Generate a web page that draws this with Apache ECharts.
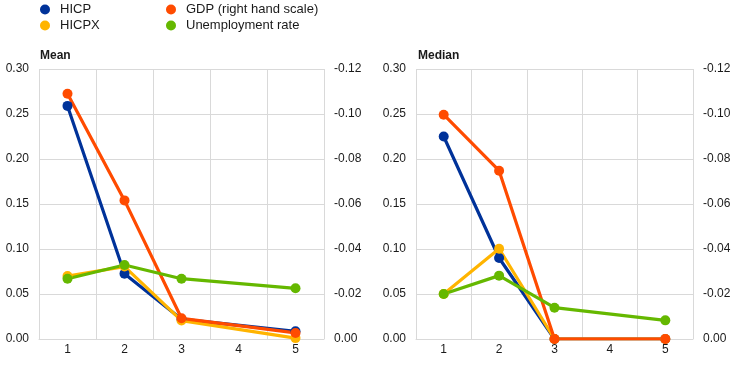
<!DOCTYPE html>
<html><head><meta charset="utf-8">
<script src="https://cdn.jsdelivr.net/npm/echarts@6/dist/echarts.min.js"></script>
<style>html,body{margin:0;padding:0;background:#fff}#c{width:743px;height:366px}</style>
</head><body><div id="c"></div>
<script>
const categories = ['1','2','3','4','5'];
const seriesNames = ['HICP','HICPX','GDP (right hand scale)','Unemployment rate'];
const colors = ['#003299','#FFB400','#FF4B00','#65B800'];
// Mean panel
const meanHICP = [0.259, 0.0726, 0.022, null, 0.0085];
const meanHICPX = [0.070, 0.0805, 0.0205, null, 0.001];
const meanGDP = [-0.109, -0.0616, -0.0092, null, -0.0027];
const meanUnemp = [0.067, 0.0822, 0.067, null, 0.0563];
// Median panel
const medHICP = [0.225, 0.090, 0.0, null, 0.0];
const medHICPX = [0.050, 0.1003, 0.0, null, 0.0];
const medGDP = [-0.0997, -0.0748, 0.0, null, 0.0];
const medUnemp = [0.050, 0.0704, 0.0348, null, 0.0207];
const panelTitles = ['Mean','Median'];

const font = 'Liberation Sans, Arial, sans-serif';
const txt = '#1a1a1a';
const gridCol = '#d9d9d9';

function xAx(gi){
  return {type:'category', gridIndex:gi, data:categories, boundaryGap:true,
    axisLine:{show:true,lineStyle:{color:gridCol}}, axisTick:{show:false},
    axisLabel:{color:txt,fontSize:12,fontFamily:font,margin:5},
    splitLine:{show:true,lineStyle:{color:gridCol}}};
}
function yLeft(gi){
  return {type:'value', gridIndex:gi, min:0, max:0.3, interval:0.05, position:'left',
    axisLine:{show:false}, axisTick:{show:false},
    axisLabel:{color:txt,fontSize:12,fontFamily:font,margin:10,formatter:v=>v.toFixed(2)},
    splitLine:{show:true,lineStyle:{color:gridCol}}};
}
function yRight(gi){
  return {type:'value', gridIndex:gi, min:-0.12, max:0, interval:0.02, inverse:true, position:'right',
    axisLine:{show:false}, axisTick:{show:false},
    axisLabel:{color:txt,fontSize:12,fontFamily:font,margin:10,align:'left',formatter:v=>(Math.abs(v)<1e-9?0:v).toFixed(2)},
    splitLine:{show:false}};
}
function ser(name, data, xi, yi, color){
  return {name:name, type:'line', xAxisIndex:xi, yAxisIndex:yi, data:data, connectNulls:true,
    symbol:'circle', symbolSize:10, showSymbol:true,
    lineStyle:{width:3.2,color:color}, itemStyle:{color:color}, emphasis:{disabled:true}};
}
const panels = [[meanHICP,meanHICPX,meanGDP,meanUnemp],[medHICP,medHICPX,medGDP,medUnemp]];
const series = [];
panels.forEach((p,gi)=>{
  p.forEach((d,si)=>{
    series.push(ser(seriesNames[si], d, gi, si===2 ? gi*2+1 : gi*2, colors[si]));
  });
});

const chart = echarts.init(document.getElementById('c'), null, {renderer:'canvas'});
chart.setOption({
  animation:false,
  color:colors,
  title:[
    {text:panelTitles[0], left:35, top:45, textStyle:{fontSize:12,fontWeight:'bold',color:txt,fontFamily:font}},
    {text:panelTitles[1], left:413, top:45, textStyle:{fontSize:12,fontWeight:'bold',color:txt,fontFamily:font}}
  ],
  legend:[
    {data:[seriesNames[0],seriesNames[1]], orient:'vertical', left:35, top:-2, icon:'circle',
     itemWidth:10, itemHeight:10, itemGap:3, selectedMode:false,
     textStyle:{fontSize:13,color:txt,fontFamily:font,padding:[0,0,0,5]}},
    {data:[seriesNames[2],seriesNames[3]], orient:'vertical', left:161, top:-2, icon:'circle',
     itemWidth:10, itemHeight:10, itemGap:3, selectedMode:false,
     textStyle:{fontSize:13,color:txt,fontFamily:font,padding:[0,0,0,5]}}
  ],
  grid:[
    {left:39, top:69, width:285, height:270},
    {left:416, top:69, width:277, height:270}
  ],
  xAxis:[xAx(0), xAx(1)],
  yAxis:[yLeft(0), yRight(0), yLeft(1), yRight(1)],
  series:series
});
</script></body></html>
